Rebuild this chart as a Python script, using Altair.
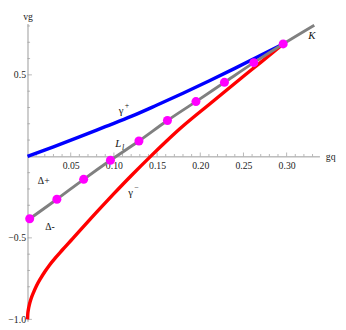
import altair as alt
import pandas as pd

# ---- data ----
blue_gq = [0.0, 0.03, 0.06, 0.09, 0.12, 0.15, 0.18, 0.21, 0.24, 0.27, 0.296]
blue_vg = [0.0, 0.058, 0.119, 0.182, 0.245, 0.315, 0.387, 0.462, 0.540, 0.620, 0.690]

red_gq = [0.0, 0.0003, 0.001, 0.002, 0.004, 0.007, 0.010, 0.015, 0.020, 0.026, 0.032,
          0.040, 0.052, 0.070, 0.087, 0.100, 0.120, 0.1425, 0.161, 0.1757, 0.212,
          0.249, 0.270, 0.296]
red_vg = [-1.0, -0.966, -0.939, -0.913, -0.875, -0.834, -0.798, -0.750, -0.708, -0.663, -0.624,
          -0.576, -0.506, -0.400, -0.302, -0.229, -0.119, 0.0, 0.094, 0.166, 0.326,
          0.487, 0.577, 0.690]

dot_gq = [0.0025, 0.034, 0.065, 0.096, 0.129, 0.162, 0.195, 0.228, 0.262, 0.296]
dot_vg = [-0.383, -0.263, -0.141, -0.024, 0.094, 0.220, 0.336, 0.454, 0.575, 0.690]

line_end_gq = [0.332]
line_end_vg = [0.805]

x_label_vals = [0.05, 0.10, 0.15, 0.20, 0.25, 0.30]
x_minor_vals = [0.01, 0.02, 0.03, 0.04, 0.06, 0.07, 0.08, 0.09, 0.11, 0.12, 0.13, 0.14,
                0.16, 0.17, 0.18, 0.19, 0.21, 0.22, 0.23, 0.24, 0.26, 0.27, 0.28, 0.29,
                0.31, 0.32, 0.33]
y_label_vals = [-1.0, -0.5, 0.5]
y_minor_vals = [-0.9, -0.8, -0.7, -0.6, -0.4, -0.3, -0.2, -0.1, 0.1, 0.2, 0.3, 0.4,
                0.6, 0.7, 0.8]

# curve names (γ with a superscript sign)
gamma_text = ["γ", "γ"]
gamma_sup = ["+", "−"]
gamma_gq = [0.1083, 0.1193]
gamma_vg = [0.279, -0.225]

delta_text = ["Δ+", "Δ-"]
delta_gq = [0.0188, 0.026]
delta_vg = [-0.153, -0.434]

ital_text = ["L", "K"]
ital_sub = ["l", ""]
ital_gq = [0.105, 0.3293]
ital_vg = [0.075, 0.741]

# ---- layout ----
W, H = 299, 305
X_DOM = [0.0, 0.338]
Y_DOM = [-1.012, 0.815]
y0_px = H * (Y_DOM[1] - 0) / (Y_DOM[1] - Y_DOM[0])
x_axis_offset = -(H - y0_px)

FONT = "Liberation Serif"
AX = "#999999"
TXT = "#111111"

xs = alt.Scale(domain=X_DOM, nice=False, zero=False)
ys = alt.Scale(domain=Y_DOM, nice=False, zero=False)

x_axis = alt.Axis(values=x_label_vals, format=".2f", ticks=False, grid=False,
                  domainColor=AX, domainWidth=1, labelFont=FONT, labelFontSize=10,
                  labelColor="#222222", labelPadding=4, offset=x_axis_offset,
                  labelFlush=False, title="gq", titleFont=FONT, titleFontSize=10,
                  titleFontWeight="normal", titleColor="#222222", titleX=W + 11, titleY=0,
                  titleAlign="center", titleBaseline="middle", titleAngle=0)
y_axis = alt.Axis(values=y_label_vals, format=".1f", ticks=False, grid=False,
                  domainColor=AX, domainWidth=1, labelFont=FONT, labelFontSize=10,
                  labelColor="#222222", labelPadding=2, labelFlush=False,
                  title="vg", titleFont=FONT, titleFontSize=10, titleFontWeight="normal",
                  titleColor="#222222", titleX=0, titleY=-7, titleAngle=0,
                  titleAlign="center", titleBaseline="middle")

X = lambda f="gq": alt.X(f"{f}:Q", scale=xs, axis=x_axis)
Y = lambda f="vg": alt.Y(f"{f}:Q", scale=ys, axis=y_axis)

blue_df = pd.DataFrame({"gq": blue_gq, "vg": blue_vg})
red_df = pd.DataFrame({"gq": red_gq, "vg": red_vg})
dot_df = pd.DataFrame({"gq": dot_gq, "vg": dot_vg})
gray_df = pd.DataFrame({"gq": dot_gq + line_end_gq, "vg": dot_vg + line_end_vg})

blue = alt.Chart(blue_df).mark_line(color="#0000FF", strokeWidth=3.5, interpolate="monotone").encode(x=X(), y=Y())
red = alt.Chart(red_df).mark_line(color="#FF0000", strokeWidth=3.5, interpolate="monotone").encode(x=X(), y=Y())
gray = alt.Chart(gray_df).mark_line(color="#808080", strokeWidth=3, interpolate="monotone").encode(x=X(), y=Y())
dots = alt.Chart(dot_df).mark_circle(color="#FF00FF", size=85, opacity=1).encode(x=X(), y=Y())

# axis ticks (pointing into the plot, Mathematica style)
xmaj = alt.Chart(pd.DataFrame({"v": x_label_vals})).mark_tick(
    orient="vertical", size=4, thickness=1, color=AX, yOffset=-2).encode(
    x=alt.X("v:Q", scale=xs, axis=x_axis), y=alt.YDatum(0, scale=ys, axis=y_axis))
xmin = alt.Chart(pd.DataFrame({"v": x_minor_vals})).mark_tick(
    orient="vertical", size=2.4, thickness=1, color=AX, yOffset=-1.2).encode(
    x=alt.X("v:Q", scale=xs, axis=x_axis), y=alt.YDatum(0, scale=ys, axis=y_axis))
ymaj = alt.Chart(pd.DataFrame({"v": y_label_vals})).mark_tick(
    orient="horizontal", size=4.5, thickness=1, color=AX, xOffset=2.25).encode(
    y=alt.Y("v:Q", scale=ys, axis=y_axis), x=alt.XDatum(0, scale=xs, axis=x_axis))
ymin = alt.Chart(pd.DataFrame({"v": y_minor_vals})).mark_tick(
    orient="horizontal", size=2.6, thickness=1, color=AX, xOffset=1.3).encode(
    y=alt.Y("v:Q", scale=ys, axis=y_axis), x=alt.XDatum(0, scale=xs, axis=x_axis))

gdf = pd.DataFrame({"gq": gamma_gq, "vg": gamma_vg, "t": gamma_text, "s": gamma_sup})
gammas = alt.Chart(gdf).mark_text(
    font=FONT, fontSize=11, color=TXT, baseline="middle", align="center").encode(
    x=X(), y=Y(), text="t:N")
sups = alt.Chart(gdf).mark_text(
    font=FONT, fontSize=8, color=TXT, baseline="middle", align="center", dx=6, dy=-5).encode(
    x=X(), y=Y(), text="s:N")
deltas = alt.Chart(pd.DataFrame({"gq": delta_gq, "vg": delta_vg, "t": delta_text})).mark_text(
    font=FONT, fontSize=10, color=TXT, baseline="middle", align="center").encode(
    x=X(), y=Y(), text="t:N")
idf = pd.DataFrame({"gq": ital_gq, "vg": ital_vg, "t": ital_text, "s": ital_sub})
itals = alt.Chart(idf).mark_text(
    font=FONT, fontSize=11, fontStyle="italic", color=TXT, baseline="middle", align="center").encode(
    x=X(), y=Y(), text="t:N")
subs = alt.Chart(idf).mark_text(
    font=FONT, fontSize=8, fontStyle="italic", color=TXT, baseline="middle", align="center", dx=5, dy=4).encode(
    x=X(), y=Y(), text="s:N")

chart = alt.layer(xmin, xmaj, ymin, ymaj, blue, red, gray, dots,
                  gammas, sups, deltas, itals, subs).properties(
    width=W, height=H,
    autosize=alt.AutoSizeParams(type="none"),
    padding={"left": 20, "top": 12, "right": 19, "bottom": 5},
    background="white",
).configure_view(stroke=None)

chart.save("out.html", embed_options={"renderer": "svg", "actions": False})
